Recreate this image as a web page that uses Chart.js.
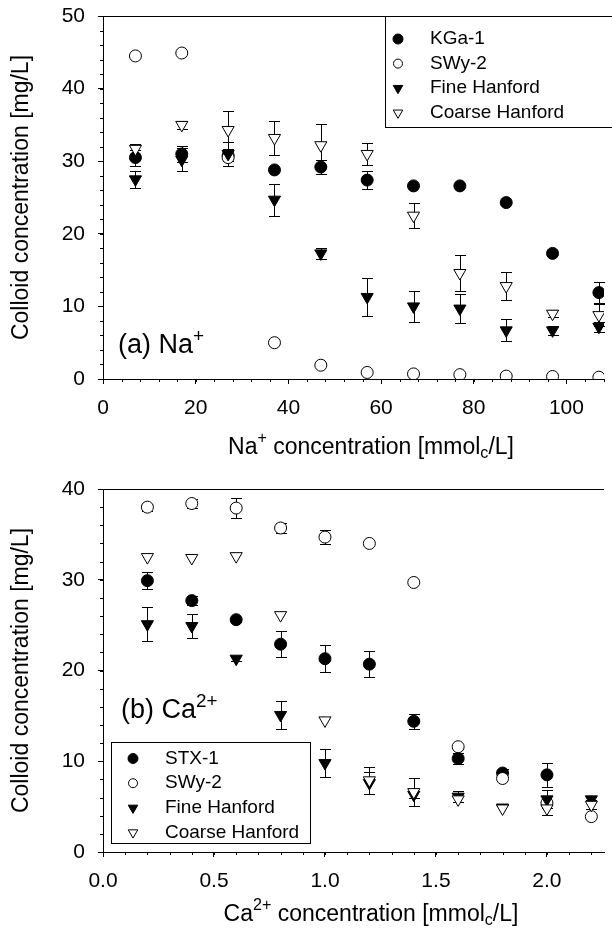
<!DOCTYPE html>
<html>
<head>
<meta charset="utf-8">
<script src="https://cdn.jsdelivr.net/npm/chart.js@4.4.1/dist/chart.umd.min.js"></script>
<style>
  html, body { margin: 0; padding: 0; background: #fff; overflow: hidden; }
  .panel { position: absolute; left: 0; width: 612px; }
  .panel canvas { display: block; }
  #panelA { top: 0; height: 468px; }
  #panelB { top: 468px; height: 469px; }
</style>
</head>
<body>
<div class="panel" id="panelA"><canvas id="chartA" width="612" height="468"></canvas></div>
<div class="panel" id="panelB"><canvas id="chartB" width="612" height="469"></canvas></div>
<script>
// (a) Na+ experiments
const naConc = [7, 17, 27, 37, 47, 57, 67, 77, 87, 97, 107];
const kga1 = [30.5, 31.0, 30.8, 28.8, 29.2, 27.4, 26.6, 26.6, 24.3, 17.3, 11.9];
const kga1Err = [1.1, 1.1, 0.8, 0, 0.9, 1.2, 0, 0, 0, 0, 1.5];
const swy2Na = [44.5, 44.9, 30.5, 5.0, 1.9, 0.9, 0.7, 0.6, 0.4, 0.35, 0.25];
const swy2NaErr = [0, 0, 0.5, 0, 0, 0, 0, 0, 0, 0, 0];
const fineNa = [27.5, 30.2, 31.0, 24.7, 17.3, 11.3, 10.0, 9.7, 6.7, 6.7, 7.2];
const fineNaErr = [1.2, 1.6, 1.7, 2.2, 0.8, 2.6, 2.1, 2.0, 1.5, 0.6, 0.7];
const coarseNa = [31.7, 35.0, 34.3, 33.2, 32.2, 31.0, 22.5, 14.6, 12.8, 9.0, 8.8];
const coarseNaErr = [0.7, 0.6, 2.6, 2.3, 2.9, 1.5, 1.7, 2.5, 1.9, 0.5, 1.5];

// (b) Ca2+ experiments
const caConc = [0.2, 0.4, 0.6, 0.8, 1.0, 1.2, 1.4, 1.6, 1.8, 2.0, 2.2];
const stx1 = [29.9, 27.7, 25.6, 22.9, 21.3, 20.7, 14.4, 10.3, 8.7, 8.5, null];
const stx1Err = [0.9, 0.5, 0.3, 1.4, 1.5, 1.4, 0.8, 0.6, 0.4, 1.3, 0];
const swy2Ca = [38.0, 38.4, 37.9, 35.7, 34.7, 34.0, 29.7, 11.6, 8.1, 5.4, 3.9];
const swy2CaErr = [0.4, 0.5, 1.1, 0.6, 0.8, 0, 0, 0, 0, 0, 0];
const fineCa = [25.1, 24.9, 21.3, 15.1, 9.8, 7.6, 6.3, 6.1, 4.9, 5.8, 5.8];
const fineCaErr = [1.9, 1.3, 0.3, 1.5, 1.5, 1.2, 0.4, 0.6, 0, 1.0, 0.3];
const coarseCa = [32.5, 32.4, 32.6, 26.1, 14.5, 7.9, 6.6, 5.8, 4.8, 4.8, 5.2];
const coarseCaErr = [0, 0, 0, 0, 0, 1.5, 1.5, 0, 0, 0.7, 0.5];

// tick labels
const naTicks = [0, 20, 40, 60, 80, 100];
const naTickLabels = ['0', '20', '40', '60', '80', '100'];
const caTicks = [0, 0.5, 1.0, 1.5, 2.0];
const caTickLabels = ['0.0', '0.5', '1.0', '1.5', '2.0'];
const yTicksA = [0, 10, 20, 30, 40, 50];
const yTicksB = [0, 10, 20, 30, 40];

const FONT = "'Liberation Sans', Arial, sans-serif";

const filledCircle = { pointStyle: 'circle', pointRadius: 6, pointBackgroundColor: '#000', pointBorderColor: '#000', pointBorderWidth: 1 };
const openCircle = { pointStyle: 'circle', pointRadius: 6, pointBackgroundColor: '#fff', pointBorderColor: '#000', pointBorderWidth: 1 };
const filledTri = { pointStyle: 'triangle', pointRotation: 180, pointRadius: 7, pointBackgroundColor: '#000', pointBorderColor: '#000', pointBorderWidth: 1 };
const openTri = { pointStyle: 'triangle', pointRotation: 180, pointRadius: 7, pointBackgroundColor: '#fff', pointBorderColor: '#000', pointBorderWidth: 1 };

function series(label, xs, ys, errs, style, order) {
  const data = [];
  xs.forEach((x, i) => {
    if (ys[i] !== null) data.push({ x: x, y: ys[i], e: errs[i] });
  });
  return Object.assign({ label, data, order, showLine: false, pointHoverRadius: 6 }, style);
}

// error bars go under the symbols
const errorBars = {
  id: 'errorBars',
  beforeDatasetsDraw(chart) {
    const ctx = chart.ctx;
    const ys = chart.scales.y;
    ctx.save();
    ctx.strokeStyle = '#000';
    ctx.lineWidth = 1;
    chart.data.datasets.forEach((ds, di) => {
      const meta = chart.getDatasetMeta(di);
      meta.data.forEach((pt, i) => {
        const e = ds.data[i].e;
        if (!e) return;
        const v = ds.data[i].y;
        const top = Math.round(ys.getPixelForValue(v + e)) + 0.5;
        const bot = Math.round(ys.getPixelForValue(v - e)) + 0.5;
        const x = Math.round(pt.x) + 0.5;
        ctx.beginPath();
        ctx.moveTo(x, top); ctx.lineTo(x, bot);
        ctx.moveTo(x - 5.5, top); ctx.lineTo(x + 5.5, top);
        ctx.moveTo(x - 5.5, bot); ctx.lineTo(x + 5.5, bot);
        ctx.stroke();
      });
    });
    ctx.restore();
  }
};

// text with super/subscripts
function richWidth(ctx, parts, size) {
  let w = 0;
  parts.forEach(p => {
    const s = p[1] ? size * 0.7 : size;
    ctx.font = s + 'px ' + FONT;
    w += ctx.measureText(p[0]).width;
  });
  return w;
}
function drawRich(ctx, parts, x, y, size) {
  let cx = x;
  parts.forEach(p => {
    const s = p[1] ? size * 0.7 : size;
    let dy = 0;
    if (p[1] === 'sup') dy = -size * 0.42;
    if (p[1] === 'sub') dy = size * 0.25;
    ctx.font = s + 'px ' + FONT;
    ctx.fillText(p[0], cx, y + dy);
    cx += ctx.measureText(p[0]).width;
  });
}

const frame = {
  id: 'frame',
  afterDraw(chart, args, o) {
    const ctx = chart.ctx;
    const a = chart.chartArea;
    const xs = chart.scales.x, ys = chart.scales.y;
    ctx.save();
    ctx.strokeStyle = '#000';
    ctx.fillStyle = '#000';
    ctx.lineWidth = 1;

    // top frame line
    ctx.beginPath();
    ctx.moveTo(a.left, Math.round(a.top) + 0.5);
    ctx.lineTo(a.right, Math.round(a.top) + 0.5);
    ctx.stroke();

    // minor ticks
    ctx.beginPath();
    for (let k = 0; k * o.xMinor <= xs.max + 1e-9; k++) {
      const px = Math.round(xs.getPixelForValue(k * o.xMinor)) + 0.5;
      ctx.moveTo(px, a.bottom); ctx.lineTo(px, a.bottom + 3);
    }
    for (let k = 0; k * o.yMinor <= ys.max + 1e-9; k++) {
      const py = Math.round(ys.getPixelForValue(k * o.yMinor)) + 0.5;
      ctx.moveTo(a.left, py); ctx.lineTo(a.left - 3, py);
    }
    ctx.stroke();

    // axis titles
    ctx.textBaseline = 'middle';
    ctx.textAlign = 'left';
    const tw = richWidth(ctx, o.xTitle, o.titleSize);
    drawRich(ctx, o.xTitle, o.xTitleX - tw / 2, a.bottom + o.xTitleDy, o.titleSize);
    ctx.save();
    ctx.translate(o.yTitleX, (a.top + a.bottom) / 2);
    ctx.rotate(-Math.PI / 2);
    const yw = richWidth(ctx, [[o.yTitle]], o.titleSize);
    drawRich(ctx, [[o.yTitle]], -yw / 2, 0, o.titleSize);
    ctx.restore();

    // panel label
    ctx.textBaseline = 'alphabetic';
    drawRich(ctx, o.panel, o.panelX, o.panelY, o.panelSize);

    // legend box
    const L = o.legend;
    ctx.fillStyle = '#fff';
    ctx.fillRect(L.x, L.y, L.w, L.h);
    ctx.strokeRect(L.x + 0.5, L.y + 0.5, L.w, L.h);
    ctx.font = L.size + 'px ' + FONT;
    ctx.textBaseline = 'middle';
    chart.data.datasets.forEach((ds, i) => {
      const ry = L.row0 + i * L.gap;
      ctx.fillStyle = ds.pointBackgroundColor;
      ctx.strokeStyle = '#000';
      ctx.lineWidth = 1;
      const r = ds.pointStyle === 'circle' ? (ds.pointBackgroundColor === '#000' ? 5 : 4.5) : 5.5;
      Chart.helpers.drawPoint(ctx, { pointStyle: ds.pointStyle, rotation: ds.pointRotation || 0, radius: r, borderWidth: 1 }, L.markerX, ry);
      ctx.fillStyle = '#000';
      ctx.fillText(ds.label, L.textX, ry);
    });
    ctx.restore();
  }
};

function axis(ticksArr, labels, min, max, size, isX) {
  return {
    type: 'linear',
    min: min,
    max: max,
    afterBuildTicks: s => { s.ticks = ticksArr.map(v => ({ value: v })); },
    afterFit: s => {
      if (isX) s.height = size; else s.width = size;
      s.paddingTop = 0; s.paddingBottom = 0; s.paddingLeft = 0; s.paddingRight = 0;
    },
    ticks: {
      callback: (v, i) => labels[i],
      font: { family: FONT, size: 21 },
      color: '#000',
      padding: isX ? 12 : 13,
      autoSkip: false,
      maxRotation: 0
    },
    grid: { drawOnChartArea: false, drawTicks: true, tickLength: 5, color: '#000', tickColor: '#000' },
    border: { color: '#000', width: 1 }
  };
}

function makeChart(id, datasets, opts) {
  return new Chart(document.getElementById(id), {
    type: 'scatter',
    data: { datasets },
    options: {
      responsive: false,
      devicePixelRatio: 1,
      animation: false,
      layout: { padding: { top: opts.top, left: 0, right: 0, bottom: 0 } },
      scales: {
        x: axis(opts.xTicks, opts.xLabels, 0, opts.xMax, opts.xAxisH, true),
        y: axis(opts.yTicks, opts.yTicks.map(String), 0, opts.yMax, 103, false)
      },
      plugins: {
        legend: { display: false },
        tooltip: { enabled: false },
        frame: opts.frame
      }
    },
    plugins: [errorBars, frame]
  });
}

makeChart('chartA', [
  series('KGa-1', naConc, kga1, kga1Err, filledCircle, 3),
  series('SWy-2', naConc, swy2Na, swy2NaErr, openCircle, 2),
  series('Fine Hanford', naConc, fineNa, fineNaErr, filledTri, 1),
  series('Coarse Hanford', naConc, coarseNa, coarseNaErr, openTri, 0)
], {
  top: 16, xMax: 108.1, yMax: 50, xAxisH: 89,
  xTicks: naTicks, xLabels: naTickLabels, yTicks: yTicksA,
  frame: {
    xMinor: 4, yMinor: 2,
    titleSize: 23,
    xTitle: [['Na'], ['+', 'sup'], [' concentration [mmol'], ['c', 'sub'], ['/L]']],
    xTitleX: 371, xTitleDy: 69,
    yTitle: 'Colloid concentration [mg/L]', yTitleX: 22,
    panel: [['(a) Na'], ['+', 'sup']], panelX: 118, panelY: 353, panelSize: 27,
    legend: { x: 385, y: 16, w: 260, h: 111, row0: 39, gap: 24.6, markerX: 398, textX: 430, size: 19 }
  }
});

makeChart('chartB', [
  series('STX-1', caConc, stx1, stx1Err, filledCircle, 3),
  series('SWy-2', caConc, swy2Ca, swy2CaErr, openCircle, 2),
  series('Fine Hanford', caConc, fineCa, fineCaErr, filledTri, 1),
  series('Coarse Hanford', caConc, coarseCa, coarseCaErr, openTri, 0)
], {
  top: 21, xMax: 2.257, yMax: 40, xAxisH: 85,
  xTicks: caTicks, xLabels: caTickLabels, yTicks: yTicksB,
  frame: {
    xMinor: 0.1, yMinor: 2,
    titleSize: 23,
    xTitle: [['Ca'], ['2+', 'sup'], [' concentration [mmol'], ['c', 'sub'], ['/L]']],
    xTitleX: 371, xTitleDy: 63,
    yTitle: 'Colloid concentration [mg/L]', yTitleX: 22,
    panel: [['(b) Ca'], ['2+', 'sup']], panelX: 121, panelY: 250, panelSize: 27,
    legend: { x: 111, y: 274, w: 199, h: 101, row0: 290.5, gap: 24.7, markerX: 133, textX: 165, size: 19 }
  }
});
</script>
</body>
</html>
